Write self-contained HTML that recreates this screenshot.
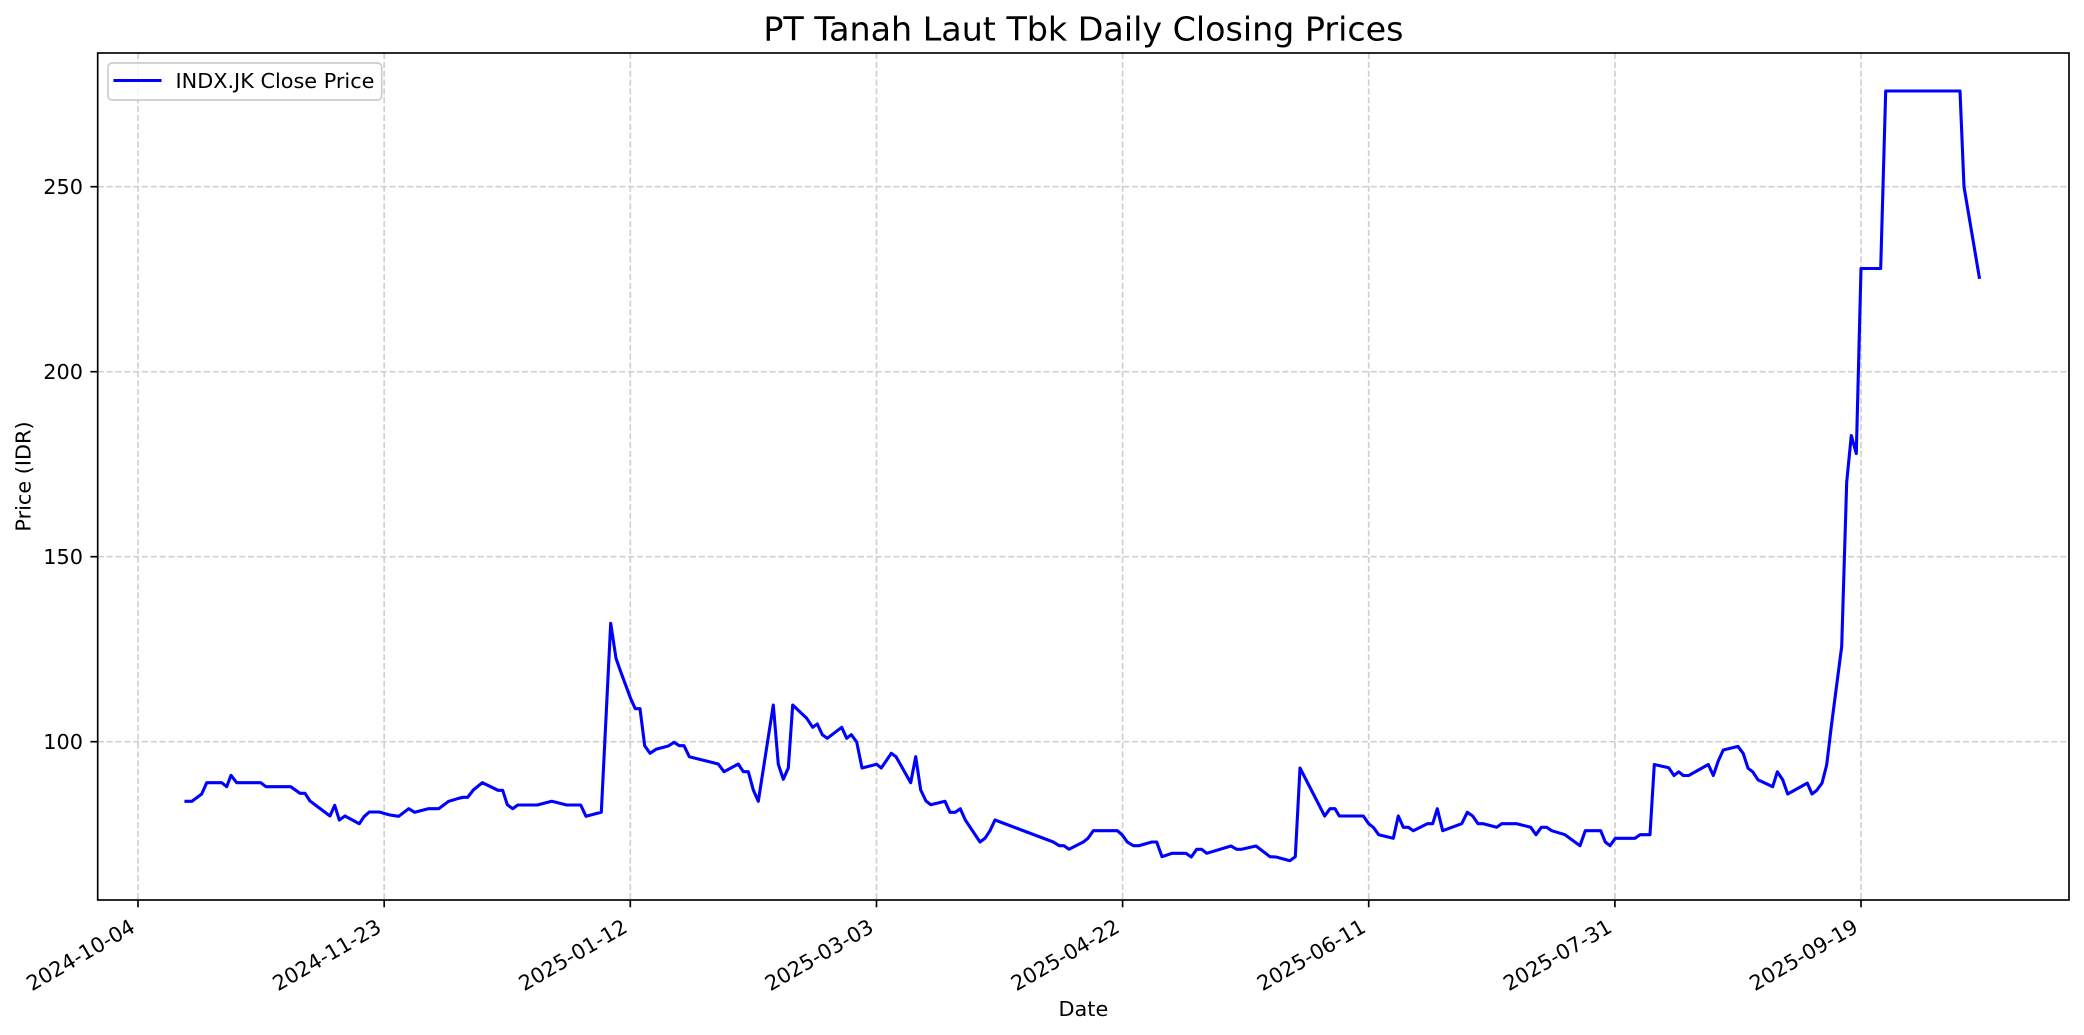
<!DOCTYPE html>
<html>
<head>
<meta charset="utf-8">
<style>
  html,body{margin:0;padding:0;background:#fff;}
  svg{display:block;}
  text{font-family:"DejaVu Sans","Liberation Sans",sans-serif;fill:#000;}
</style>
</head>
<body>
<svg width="2084" height="1035" viewBox="0 0 2084 1035" xmlns="http://www.w3.org/2000/svg">
  <rect x="0" y="0" width="2084" height="1035" fill="#fff"/>
  <!-- grid -->
  <g stroke="#d0d0d0" stroke-width="1.67" stroke-dasharray="6.17,2.67" fill="none">
    <line x1="138" y1="53" x2="138" y2="900"/>
    <line x1="384.2" y1="53" x2="384.2" y2="900"/>
    <line x1="630.3" y1="53" x2="630.3" y2="900"/>
    <line x1="876.5" y1="53" x2="876.5" y2="900"/>
    <line x1="1122.6" y1="53" x2="1122.6" y2="900"/>
    <line x1="1368.7" y1="53" x2="1368.7" y2="900"/>
    <line x1="1614.9" y1="53" x2="1614.9" y2="900"/>
    <line x1="1861" y1="53" x2="1861" y2="900"/>
    <line x1="97.7" y1="741.7" x2="2069" y2="741.7"/>
    <line x1="97.7" y1="556.7" x2="2069" y2="556.7"/>
    <line x1="97.7" y1="371.7" x2="2069" y2="371.7"/>
    <line x1="97.7" y1="186.7" x2="2069" y2="186.7"/>
  </g>
  <!-- data line -->
  <polyline fill="none" stroke="#0000ff" stroke-width="3.1" stroke-linejoin="round" stroke-linecap="square" points="186,801.3 192,801.3 201.7,794 206.7,782.7 221.7,782.7 226.7,786.7 231,775.3 236.7,782.7 260.7,782.7 266,786.7 290.7,786.7 300,793.3 305,793.3 310,801 330,816 334.7,805.3 339.3,820 345,816 359.3,823.7 364,816.7 369.3,812 379.3,812 390,815 398.7,816.3 408.7,808.7 414.7,812.3 428.3,808.7 438.7,808.7 448.7,801.3 458.7,798.3 463.3,797.3 467.7,797.3 473.3,790 482.3,782.7 492.7,787.7 498,790.3 502.7,790.3 507.3,804.7 512.7,808.7 517.7,805 537.3,805 551.7,801.3 566.7,805 580.7,805 586,816.3 601.3,812.3 610.7,623.3 616,658.3 620.7,671.7 630.7,698.7 635.3,708.7 640,708.7 644.7,745.7 650,753.3 656,749.3 668.3,746 674,742.3 679.3,745.7 684,745.7 689.3,756.7 718.3,764 724,771.7 738.3,764 743.3,771.7 748.3,771.7 753.3,790 758.3,801.3 773.3,705 778.3,764.3 783.3,779.3 788.3,768 792.7,705 806.7,718.3 812.7,727.3 817.3,724 822.3,734.7 827.3,738.3 841.7,727.3 846.7,738.3 851.3,734.7 856.7,742 862,768 876.7,764.3 881.3,768 891.3,753.3 896,756.7 910.7,782.7 915.7,756.7 920.7,790 926,801 930.7,804.7 945,801.3 950,812.3 955.3,812.3 960.3,808.7 965.3,820 980,842 985,838.3 990,830.7 995,820 1053.3,842 1059.3,845.7 1064,845.7 1069,849.3 1083.3,842 1088,838.3 1093.3,830.7 1117.3,830.7 1122,834.7 1127.3,842 1133.3,845.7 1138.7,845.7 1152,842 1156.7,842 1162,856.7 1172,853.3 1186,853.3 1191.3,857 1196.7,849.3 1201.7,849.3 1206.7,853.3 1231,846 1236.7,849.3 1241.7,849.3 1256,846 1270,856.7 1276,857 1290,860.7 1295.3,856.7 1300,768 1324.7,816 1330,808.7 1335,808.7 1339.3,816 1363.3,816 1368.7,823.7 1373.3,827.3 1378.7,834.7 1393.3,838.3 1398.3,816 1403.3,827.3 1408.3,827.3 1413.3,830.7 1427.3,823.7 1432.7,823.7 1437.3,808.7 1442.7,830.7 1461.7,823.7 1467.3,812.3 1472.7,816 1478,823.7 1483.3,823.7 1496.7,827.3 1501.7,823.7 1516.7,823.7 1530.7,827.3 1536,834.7 1541.3,827.3 1546.7,827.3 1551.7,830.7 1565,834.7 1580,845.7 1585.3,830.7 1600.7,830.7 1605.3,842 1610,845.7 1615.3,838.3 1635,838.3 1640,834.7 1650,834.7 1654.3,764.5 1668.7,767.8 1674,775.5 1678.7,771.8 1683.3,775.5 1688.7,775.5 1708.3,764.5 1713.3,775.5 1718.3,760.9 1723.3,750 1738,746.4 1743.3,753.6 1748,768.2 1752.7,771.8 1758,779.8 1772.7,786.7 1777.3,771.8 1782.7,779.8 1787.7,794 1807.3,783.1 1812,794 1816.7,790.4 1822,783.1 1826.7,764.9 1831.3,726.4 1841.7,646.4 1846.7,482 1851.3,435.5 1856.3,453.6 1861,268.5 1880.7,268.5 1885.7,91 1960,91 1964,186.7 1979.3,277.3"/>
  <!-- axes frame -->
  <rect x="97.7" y="53" width="1971.3" height="847" fill="none" stroke="#000" stroke-width="1.67"/>
  <!-- ticks -->
  <g stroke="#000" stroke-width="1.67">
    <line x1="138" y1="900" x2="138" y2="907.3"/>
    <line x1="384.2" y1="900" x2="384.2" y2="907.3"/>
    <line x1="630.3" y1="900" x2="630.3" y2="907.3"/>
    <line x1="876.5" y1="900" x2="876.5" y2="907.3"/>
    <line x1="1122.6" y1="900" x2="1122.6" y2="907.3"/>
    <line x1="1368.7" y1="900" x2="1368.7" y2="907.3"/>
    <line x1="1614.9" y1="900" x2="1614.9" y2="907.3"/>
    <line x1="1861" y1="900" x2="1861" y2="907.3"/>
    <line x1="90.4" y1="741.7" x2="97.7" y2="741.7"/>
    <line x1="90.4" y1="556.7" x2="97.7" y2="556.7"/>
    <line x1="90.4" y1="371.7" x2="97.7" y2="371.7"/>
    <line x1="90.4" y1="186.7" x2="97.7" y2="186.7"/>
  </g>
  <!-- y tick labels -->
  <g font-size="20.8" text-anchor="end">
    <text x="83" y="749.2">100</text>
    <text x="83" y="564.2">150</text>
    <text x="83" y="379.2">200</text>
    <text x="83" y="194.2">250</text>
  </g>
  <!-- x tick labels -->
  <g font-size="20.8" text-anchor="end">
    <text transform="translate(136.5,931) rotate(-30)">2024-10-04</text>
    <text transform="translate(382.7,931) rotate(-30)">2024-11-23</text>
    <text transform="translate(628.8,931) rotate(-30)">2025-01-12</text>
    <text transform="translate(875,931) rotate(-30)">2025-03-03</text>
    <text transform="translate(1121.1,931) rotate(-30)">2025-04-22</text>
    <text transform="translate(1367.2,931) rotate(-30)">2025-06-11</text>
    <text transform="translate(1613.4,931) rotate(-30)">2025-07-31</text>
    <text transform="translate(1859.5,931) rotate(-30)">2025-09-19</text>
  </g>
  <!-- axis labels -->
  <text x="1083.4" y="1016" font-size="20.8" text-anchor="middle">Date</text>
  <text transform="translate(30.5,476.5) rotate(-90)" font-size="20.8" text-anchor="middle">Price (IDR)</text>
  <!-- title -->
  <text x="1083.4" y="40.5" font-size="33.3" text-anchor="middle">PT Tanah Laut Tbk Daily Closing Prices</text>
  <!-- legend -->
  <rect x="108" y="63" width="273.7" height="37" rx="4" ry="4" fill="#fff" fill-opacity="0.8" stroke="#cccccc" stroke-width="1.67"/>
  <line x1="115" y1="80.5" x2="160" y2="80.5" stroke="#0000ff" stroke-width="3.1" stroke-linecap="square"/>
  <text x="175.5" y="88" font-size="20.8">INDX.JK Close Price</text>
</svg>
</body>
</html>
